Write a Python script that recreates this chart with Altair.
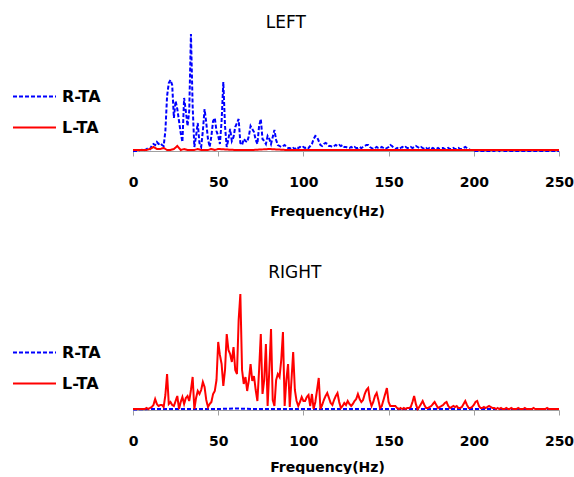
import altair as alt
import pandas as pd

FONT = "DejaVu Sans"

# frequency grid (Hz) for the densely sampled series
FREQ = list(range(0, 251))

# LEFT panel, R-TA (blue dashed)
LEFT_R = [
    0, 0, 0, 0, 1, 1, 2, 1, 2, 3,
    2, 5, 7, 6, 9, 7, 8, 6, 5, 20,
    55, 68, 71, 66, 33, 50, 42, 30, 18, 9,
    53, 40, 25, 40, 117, 45, 4, 15, 28, 8,
    4, 20, 42, 28, 12, 4, 15, 30, 33, 20,
    15, 7, 30, 69, 25, 4, 12, 22, 10, 14,
    24, 28, 32, 8, 6, 12, 10, 9, 15, 25,
    22, 19, 11, 7, 25, 32, 12, 10, 7, 15,
    12, 7, 14, 21, 11, 6, 5, 4, 5, 6,
    4, 3, 3, 2, 3, 2, 4, 3, 4, 3,
    4, 3, 4, 3, 5, 7, 12, 15, 14, 10,
    6, 5, 7, 8, 7, 5, 5, 4, 5, 6,
    5, 6, 5, 6, 4, 4, 3, 3, 4, 3,
    4, 3, 3, 4, 3, 4, 5, 6, 6, 4,
    3, 2, 3, 4, 3, 3, 4, 3, 2, 3,
    4, 6, 5, 3, 2, 3, 2, 3, 4, 3,
    4, 3, 3, 4, 3, 4, 5, 4, 3, 4,
    3, 2, 3, 2, 3, 2, 3, 2, 2, 3,
    2, 3, 3, 2, 2, 3, 2, 2, 3, 2,
    2, 3, 2, 2, 3, 4, 3, 2, 1, 1,
    0, 0, 0, 0, 0, 0, 0, 0, 0, 0,
    0, 0, 0, 1, 1, 0, 1, 1, 0, 0,
    0, 0, 0, 0, 0, 0, 0, 0, 0, 0,
    0, 0, 0, 0, 0, 0, 0, 0, 0, 0,
    0, 0, 0, 0, 0, 0, 0, 0, 0, 0,
    0,
]

# LEFT panel, L-TA (red solid), sparser sampling
LEFT_L_FREQ = [0, 2, 4, 6, 8, 10, 12, 14, 16, 18, 20, 22, 24, 26, 28, 30,
               32, 34, 36, 38, 40, 42, 44, 46, 48, 50,
               60, 70, 80, 90, 100, 110, 120, 130, 140, 150,
               160, 170, 180, 190, 200, 210, 220, 230, 240, 250]
LEFT_L = [1, 1, 1, 1, 1, 2, 4, 2, 2, 3, 1, 1, 2, 5, 1, 2,
          1, 1, 1, 2, 1, 1, 1, 2, 1, 2,
          1, 1, 2, 1, 1, 1, 1, 1, 1, 1,
          1, 1, 1, 1, 1, 1, 1, 1, 1, 1]

# RIGHT panel, R-TA (blue dashed), sparser sampling
RIGHT_R_FREQ = [0, 10, 20, 30, 40, 50, 60, 70, 80, 90, 100, 110, 120,
                130, 140, 150, 160, 170, 180, 190, 200, 210, 220, 230, 240, 250]
RIGHT_R = [0.5, 1, 1, 1, 1, 1, 1.5, 1, 1, 1, 1, 1, 1,
           1, 1, 1, 1, 1, 1, 1, 1, 1, 1, 1, 1, 1]

# RIGHT panel, L-TA (red solid)
RIGHT_L = [
    1, 1, 1, 1, 1, 1, 1, 1, 2, 1,
    2, 3, 5, 11, 6, 4, 5, 5, 3, 15,
    36, 6, 8, 5, 4, 9, 14, 1, 8, 13,
    6, 12, 14, 9, 20, 33, 1, 12, 19, 16,
    20, 28, 23, 10, 3, 6, 8, 16, 19, 30,
    68, 55, 46, 24, 40, 76, 60, 56, 48, 63,
    40, 36, 90, 116, 40, 26, 33, 19, 30, 46,
    29, 34, 20, 9, 40, 76, 16, 30, 66, 4,
    40, 81, 10, 4, 30, 36, 33, 50, 78, 4,
    30, 46, 3, 30, 58, 20, 9, 4, 8, 13,
    9, 9, 13, 15, 4, 16, 1, 8, 20, 32,
    1, 5, 10, 14, 17, 12, 7, 5, 10, 14,
    17, 8, 2, 4, 7, 5, 9, 6, 4, 6,
    9, 11, 16, 11, 8, 10, 16, 20, 22, 10,
    4, 8, 14, 17, 10, 2, 4, 10, 16, 22,
    8, 4, 4, 4, 4, 2, 1, 2, 1, 2,
    1, 2, 2, 3, 8, 14, 6, 1, 3, 6,
    9, 5, 2, 2, 3, 4, 6, 8, 5, 2,
    3, 4, 5, 7, 8, 4, 2, 3, 4, 3,
    4, 2, 2, 3, 6, 9, 5, 2, 2, 3,
    5, 8, 9, 4, 2, 2, 3, 2, 3, 4,
    3, 2, 2, 1, 2, 1, 2, 1, 1, 2,
    1, 1, 2, 1, 1, 1, 2, 1, 1, 1,
    2, 1, 1, 1, 1, 2, 1, 1, 1, 1,
    1, 1, 1, 2, 1, 1, 1, 1, 1, 1,
    1,
]

SERIES = ["R-TA", "L-TA"]
COLORS = ["#0000ff", "#ff0000"]
X_TICKS = [0, 50, 100, 150, 200, 250]


def frame(panel, series, freqs, amps):
    return pd.DataFrame({"panel": panel, "series": series, "freq": freqs, "amp": amps})


df = pd.concat([
    frame("LEFT", "R-TA", FREQ, LEFT_R),
    frame("LEFT", "L-TA", LEFT_L_FREQ, LEFT_L),
    frame("RIGHT", "R-TA", RIGHT_R_FREQ, RIGHT_R),
    frame("RIGHT", "L-TA", FREQ, RIGHT_L),
], ignore_index=True)


def panel(name, title_offset, title_dx, legend_y, title_pad):
    legend = alt.Legend(
        title=None, orient="none", legendX=-121, legendY=legend_y,
        symbolType="stroke", symbolSize=1849, symbolStrokeWidth=2,
        labelFont=FONT, labelFontSize=16, labelFontWeight="bold",
        labelColor="black", labelOffset=5, rowPadding=0,
    )
    enc = dict(
        x=alt.X("freq:Q", scale=alt.Scale(domain=[0, 250], nice=False),
                axis=alt.Axis(values=X_TICKS, title="Frequency(Hz)", grid=False,
                              domainColor="#a0a0a0", tickColor="#a0a0a0", tickSize=5,
                              labelFlush=False,
                              labelFont=FONT, labelFontSize=14, labelFontWeight="bold",
                              labelColor="black", labelPadding=19,
                              titleFont=FONT, titleFontSize=14, titleFontWeight="bold",
                              titleColor="black", titlePadding=title_pad, titleX=194)),
        y=alt.Y("amp:Q", scale=alt.Scale(domain=[0, 120]), axis=None),
        color=alt.Color("series:N", scale=alt.Scale(domain=SERIES, range=COLORS), legend=legend),
        strokeDash=alt.StrokeDash("series:N", scale=alt.Scale(domain=SERIES, range=[[4, 2], [1, 0]]),
                                  legend=legend),
    )
    sub = df[df.panel == name]
    layers = []
    for s in SERIES:
        layers.append(
            alt.Chart(sub[sub.series == s]).mark_line(strokeWidth=2).encode(**enc)
        )
    return alt.layer(*layers).properties(
        width=426, height=120,
        title=alt.TitleParams(name, font=FONT, fontSize=17, fontWeight="normal",
                              color="black", anchor="middle", frame="bounds",
                              offset=title_offset, dx=title_dx),
    )


chart = alt.vconcat(
    panel("LEFT", -2, -7, 43, 15),
    panel("RIGHT", 8, 2, 40, 12),
    spacing=46,
).resolve_scale(color="independent", strokeDash="independent").configure_view(
    stroke=None
).properties(
    padding={"left": 12, "top": 14, "right": 0, "bottom": 0},
    background="white",
)

chart.save("out.html", embed_options={"renderer": "svg", "actions": False})
